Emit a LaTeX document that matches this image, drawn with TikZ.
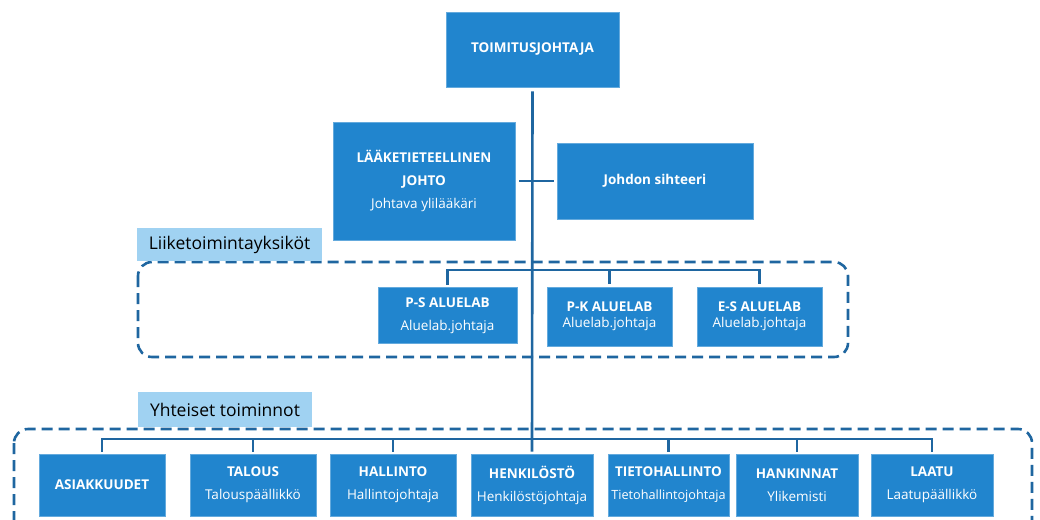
\documentclass[tikz,border=0pt]{standalone}
\usepackage{fontspec}
\setmainfont{Open Sans}
\definecolor{boxblue}{HTML}{2185CE}
\definecolor{lineblue}{HTML}{1F66A0}
\definecolor{lblblue}{HTML}{A0D2F2}
\tikzset{
  ubox/.style={fill=boxblue, draw=boxblue!70!white, line width=0.6pt, inner sep=0pt, text=white, align=center,
    font=\fontsize{13.5}{16}\selectfont},
  conn/.style={draw=lineblue, line width=2.6pt},
  dbox/.style={draw=lineblue, line width=2.6pt, dash pattern=on 11pt off 6pt, rounded corners=14pt},
  lbl/.style={fill=lblblue, inner sep=0pt, text=black, font=\fontsize{17.5}{20}\selectfont}
}
\begin{document}
\begin{tikzpicture}[x=1pt,y=-1pt]
\useasboundingbox (0,0) rectangle (1040,519);
\clip (0,0) rectangle (1040,519);
\fill[white] (0,0) rectangle (1040,519);
% dashed groups
\draw[dbox] (138,262) rectangle (848,357);
\draw[dbox] (14,429) rectangle (1032,560);
% labels
\node[lbl, minimum width=185, minimum height=33] (l1) at (229.5,244.5) {Liiketoimintayksiköt};
\node[lbl, minimum width=174, minimum height=35] (l2) at (225,409.5) {Yhteiset toiminnot};
% top
\node[ubox, minimum width=173, minimum height=75] (ceo) at (532.5,49.5) {\textbf{TOIMITUSJOHTAJA}};
\node[ubox, minimum width=182, minimum height=118] (laak) at (424,181) {\textbf{LÄÄKETIETEELLINEN}\\[7pt]\textbf{JOHTO}\\[7pt]Johtava ylilääkäri};
\node[ubox, minimum width=196, minimum height=76] (siht) at (655,181) {\textbf{Johdon sihteeri}};
% alueelab
\node[ubox, minimum width=139, minimum height=56] (ps) at (447.5,315.5) {\textbf{P-S ALUELAB}\\[7pt]Aluelab.johtaja};
\node[ubox, minimum width=125, minimum height=59] (pk) at (609.5,316.5) {\textbf{P-K ALUELAB}\\[0pt]Aluelab.johtaja};
\node[ubox, minimum width=125, minimum height=59] (es) at (759.5,316.5) {\textbf{E-S ALUELAB}\\[0pt]Aluelab.johtaja};
% bottom row
\node[ubox, minimum width=126, minimum height=62] (asi) at (102,485) {\textbf{ASIAKKUUDET}};
\node[ubox, minimum width=126, minimum height=62] (tal) at (253,485) {\textbf{TALOUS}\\[7pt]Talouspäällikkö};
\node[ubox, minimum width=126, minimum height=62] (hal) at (393,485) {\textbf{HALLINTO}\\[7pt]Hallintojohtaja};
\node[ubox, minimum width=122, minimum height=62] (hen) at (532,485) {\textbf{HENKILÖSTÖ}\\[7pt]Henkilöstöjohtaja};
\node[ubox, minimum width=121, minimum height=62] (tie) at (668.5,485) {\textbf{TIETOHALLINTO}\\[7pt]{\fontsize{12.7}{16}\selectfont Tietohallintojohtaja}};
\node[ubox, minimum width=122, minimum height=62] (han) at (797,485) {\textbf{HANKINNAT}\\[7pt]Ylikemisti};
\node[ubox, minimum width=122, minimum height=62] (laa) at (932,485) {\textbf{LAATU}\\[7pt]Laatupäällikkö};
% connectors
\coordinate (busA) at (532,270);
\coordinate (busB) at (532,439);
\draw[conn] ([yshift=-4pt]ceo.south) -- ([yshift=2pt]hen.north);
\draw[conn] ([xshift=4pt]laak.east) -- ([xshift=-3pt]siht.west);
\draw[conn] ([yshift=2.5pt]ps.north) -- (ps.north |- busA) -- (es.north |- busA) -- ([yshift=2.5pt]es.north);
\draw[conn] ([yshift=2.5pt]pk.north) -- (pk.north |- busA);
\draw[conn] ([yshift=2pt]asi.north) -- (asi.north |- busB) -- (laa.north |- busB) -- ([yshift=2pt]laa.north);
\draw[conn] ([yshift=2pt]tal.north) -- (tal.north |- busB);
\draw[conn] ([yshift=2pt]hal.north) -- (hal.north |- busB);
\draw[conn] ([yshift=2pt]tie.north) -- (tie.north |- busB);
\draw[conn] ([yshift=2pt]han.north) -- (han.north |- busB);
\end{tikzpicture}
\end{document}
